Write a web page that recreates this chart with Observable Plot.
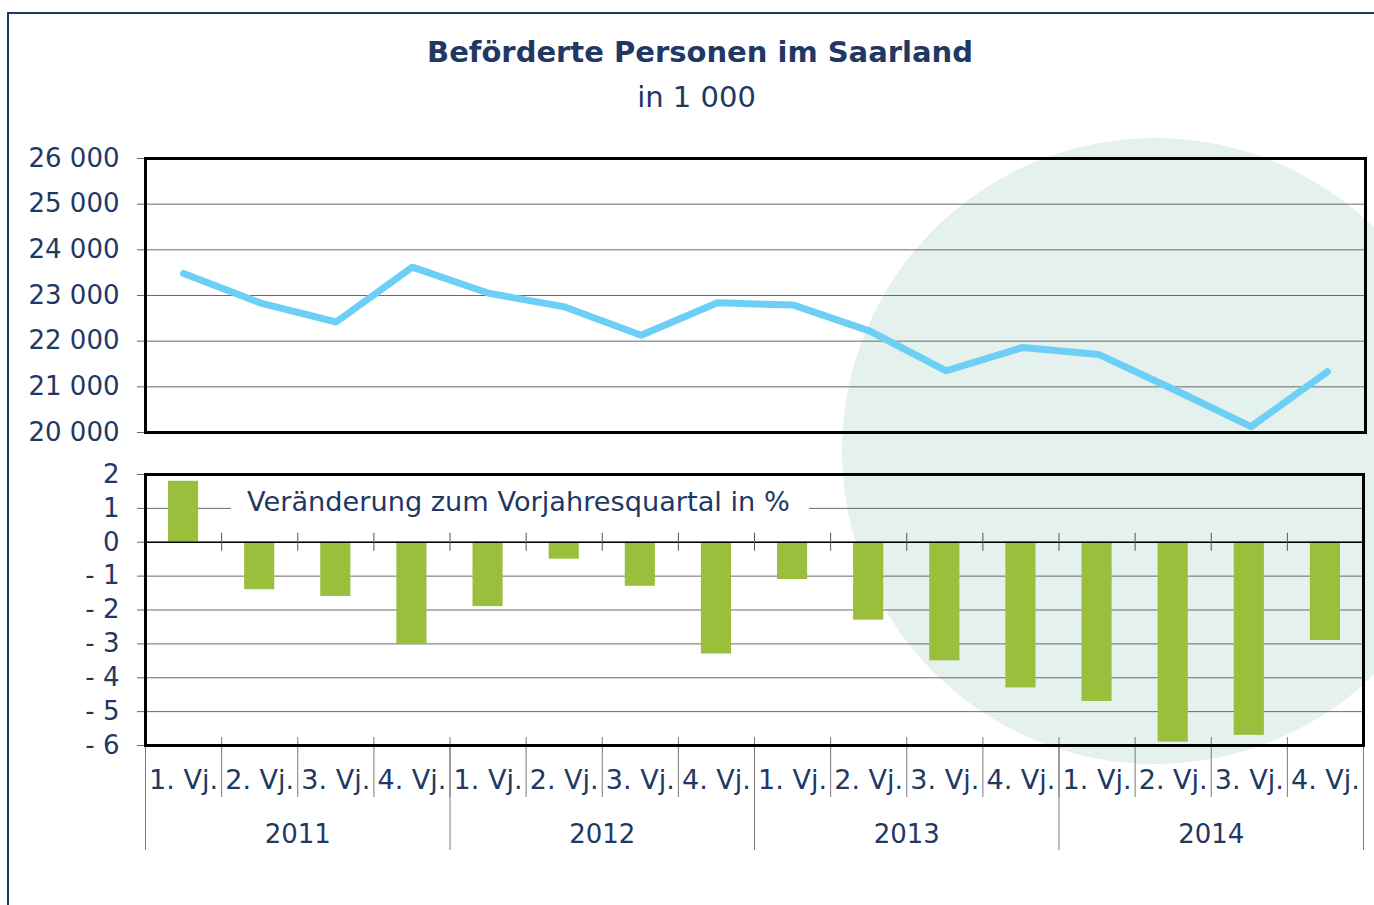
<!DOCTYPE html>
<html>
<head>
<meta charset="utf-8">
<script src="https://cdn.jsdelivr.net/npm/d3@7"></script>
<script src="https://cdn.jsdelivr.net/npm/@observablehq/plot@0.6"></script>
<style>
  html, body { margin: 0; padding: 0; background: #ffffff; }
  #page { position: relative; width: 1374px; height: 905px; overflow: hidden; font-family: "DejaVu Sans", Verdana, sans-serif; color: #1f3864; }
  #frame { position: absolute; left: 7px; top: 12px; width: 2000px; height: 2000px; border: 2px solid #1f3864; box-sizing: border-box; }
  #circle { position: absolute; left: 842px; top: 138px; width: 626px; height: 626px; border-radius: 50%; background: #e4f1ec; }
  #title { position: absolute; left: 0; top: 38px; width: 1400px; text-align: center; font-weight: bold; font-size: 29px; line-height: 29px; }
  #subtitle { position: absolute; left: 0; top: 83px; width: 1393px; text-align: center; font-size: 29px; line-height: 29px; }
  #topChart, #bottomChart { position: absolute; left: 0; }
  #topChart { top: 130px; }
  #bottomChart { top: 450px; }
  #legend { position: absolute; left: 231px; top: 480px; width: 578px; height: 44px; background: #ffffff; box-sizing: border-box; padding-left: 16px; font-size: 27.2px; line-height: 44px; white-space: nowrap; }
</style>
</head>
<body>
<div id="page">
  <div id="frame"></div>
  <div id="circle"></div>
  <div id="title">Beförderte Personen im Saarland</div>
  <div id="subtitle">in 1 000</div>
  <div id="topChart"></div>
  <div id="bottomChart"></div>
  <div id="legend">Veränderung zum Vorjahresquartal in %</div>
</div>
<script>
// ---- data ----
const years = ["2011", "2012", "2013", "2014"];
const quarters = ["1. Vj.", "2. Vj.", "3. Vj.", "4. Vj."];
// Beförderte Personen in 1 000
const persons = [23480, 22840, 22420, 23620, 23050, 22750, 22130, 22840, 22790, 22220, 21350, 21860, 21710, 20930, 20130, 21330];
// Veränderung zum Vorjahresquartal in %
const change = [1.8, -1.4, -1.6, -3.0, -1.9, -0.5, -1.3, -3.3, -1.1, -2.3, -3.5, -4.3, -4.7, -5.9, -5.7, -2.9];
const personTicks = [20000, 21000, 22000, 23000, 24000, 25000, 26000];
const changeTicks = [-6, -5, -4, -3, -2, -1, 0, 1, 2];

(function () {
  const rows = years.flatMap((y, yi) => quarters.map((q, qi) => {
    const k = yi * quarters.length + qi;
    return {year: y, quarter: q, idx: k, persons: persons[k], change: change[k]};
  }));
  const n = rows.length;
  const boundaries = d3.range(n + 1);
  const innerBoundaries = d3.range(1, n);
  const yearBoundaries = d3.range(0, n + 1, quarters.length);
  const quarterCenters = rows.map(d => d.idx + 0.5);
  const yearCenters = years.map((y, i) => i * quarters.length + quarters.length / 2);

  const navy = "#1f3864";
  const gridColor = "#6a6a6a";
  const fmtThousands = d => d3.format(",")(d).replace(/,/g, " ");
  const fmtSigned = d => d < 0 ? "- " + Math.abs(d) : String(d);

  const baseStyle = {background: "transparent", overflow: "visible", fontFamily: "DejaVu Sans, Verdana, sans-serif", fontSize: "26px", color: navy};

  // ---- top: line chart ----
  const lineChart = Plot.plot({
    width: 1374,
    height: 320,
    marginLeft: 145,
    marginRight: 9,
    marginTop: 28,
    marginBottom: 18,
    style: baseStyle,
    x: {type: "linear", domain: [0, n], axis: null},
    y: {domain: [20000, 26000], label: null},
    marks: [
      Plot.gridY(personTicks, {stroke: gridColor, strokeOpacity: 1, strokeWidth: 1}),
      Plot.axisY({ticks: personTicks, tickFormat: fmtThousands, tickSize: 8, tickPadding: 18, stroke: gridColor, fill: navy, label: null, fontSize: 26}),
      Plot.line(rows, {x: d => d.idx + 0.5, y: "persons", stroke: "#6dcff6", strokeWidth: 7, strokeLinecap: "round", strokeLinejoin: "round"}),
      Plot.frame({stroke: "#000000", strokeWidth: 3})
    ]
  });
  document.getElementById("topChart").appendChild(lineChart);

  // ---- bottom: bar chart ----
  const barChart = Plot.plot({
    width: 1374,
    height: 455,
    marginLeft: 145,
    marginRight: 11,
    marginTop: 24,
    marginBottom: 160,
    style: baseStyle,
    x: {type: "linear", domain: [0, n]},
    y: {domain: [-6, 2], label: null},
    marks: [
      Plot.gridY(changeTicks, {stroke: gridColor, strokeOpacity: 1, strokeWidth: 1}),
      Plot.axisY({ticks: changeTicks, tickFormat: fmtSigned, tickSize: 8, tickPadding: 18, stroke: gridColor, fill: navy, label: null, fontSize: 26}),
      Plot.rectY(rows, {x1: d => d.idx, x2: d => d.idx + 1, y: "change", fill: "#99bf3d", insetLeft: 23, insetRight: 23}),
      Plot.ruleY([0], {stroke: "#000000", strokeWidth: 1.5}),
      Plot.ruleX(innerBoundaries, {x: d => d, y1: 0, y2: 0, insetTop: -9, insetBottom: -9, stroke: "#555555", strokeWidth: 1}),
      Plot.ruleX(boundaries, {x: d => d, y1: -6, y2: -6, insetTop: -8, insetBottom: -52, stroke: "#7a7a7a", strokeWidth: 1}),
      Plot.ruleX(yearBoundaries, {x: d => d, y1: -6, y2: -6, insetTop: 0, insetBottom: -105, stroke: "#7a7a7a", strokeWidth: 1}),
      Plot.axisX({ticks: quarterCenters, tickFormat: d => quarters[Math.floor(d) % quarters.length], tickSize: 0, tickPadding: 24, fill: navy, label: null, fontSize: 27}),
      Plot.axisX({ticks: yearCenters, tickFormat: d => years[Math.floor(d / quarters.length)], tickSize: 0, tickPadding: 79, fill: navy, label: null, fontSize: 26}),
      Plot.frame({stroke: "#000000", strokeWidth: 3})
    ]
  });
  document.getElementById("bottomChart").appendChild(barChart);
})();
</script>
</body>
</html>
